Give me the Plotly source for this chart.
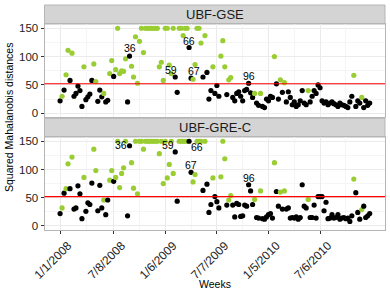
import pandas as pd
import plotly.graph_objects as go

# ---------------- data ----------------
start_week = "2008-01-01"
gse = [
    22, 30, 41, 68, 111, 58, 106, 30, 35, 48,
    40, 12, 82, 24, 29, 34, 58, 87, 56, 21,
    41, 29, 35, 20, 23, 70, 93, 65, 77, 150,
    70, 75, 74, 96, 20, 101, 83, 64, 135, 53,
    127, 150, 107, 150, 150, 150, 150, 150, 150, 150,
    82, 90, 58, 150, 150, 85, 70, 150, 64, 37,
    150, 150, 137, 150, 150, 116, 62, 60, 86, 150,
    150, 124, 64, 137, 72, 25, 40, 82, 35, 49,
    30, 101, 128, 82, 33, 59, 63, 28, 22, 35,
    38, 30, 22, 40, 42, 53, 36, 28, 35, 18,
    14, 35, 12, 10, 25, 22, 30, 28, 100, 52,
    25, 59, 37, 54, 20, 38, 28, 15, 20, 12,
    15, 22, 40, 18, 15, 40, 20, 30, 40, 35,
    50, 45, 22, 18, 20, 15, 18, 20, 17, 15,
    12, 18, 15, 14, 12, 10, 20, 30, 67, 12,
    22, 18, 28, 10, 22, 14, 18,
]
grec = [
    22, 32, 58, 66, 110, 66, 122, 30, 32, 71,
    57, 13, 86, 26, 41, 38, 76, 136, 98, 27,
    72, 32, 46, 20, 46, 81, 98, 79, 86, 150,
    68, 93, 103, 150, 18, 142, 112, 67, 150, 57,
    150, 150, 136, 150, 150, 150, 150, 150, 150, 150,
    128, 150, 75, 150, 85, 109, 150, 93, 131, 44,
    150, 150, 150, 150, 150, 150, 95, 78, 91, 150,
    150, 150, 63, 150, 74, 24, 38, 85, 52, 43,
    32, 87, 150, 119, 37, 46, 54, 37, 16, 40,
    38, 17, 18, 37, 35, 73, 62, 38, 47, 15,
    14, 62, 13, 12, 16, 20, 22, 14, 112, 61,
    35, 60, 30, 62, 30, 32, 14, 15, 14, 16,
    12, 15, 73, 35, 32, 47, 15, 15, 37, 14,
    52, 52, 52, 27, 42, 13, 14, 20, 14, 15,
    20, 12, 14, 15, 13, 14, 8, 18, 83, 59,
    24, 12, 29, 35, 15, 18, 22,
]
# 1 = flagged (green), 0 = not flagged (black)
flag = [
    0, 1, 0, 1, 1, 0, 1, 0, 0, 0,
    0, 0, 1, 0, 0, 0, 0, 1, 1, 0,
    0, 0, 1, 0, 0, 1, 1, 0, 1, 1,
    1, 1, 1, 1, 0, 0, 1, 1, 1, 1,
    1, 1, 1, 1, 1, 1, 1, 1, 1, 1,
    1, 1, 1, 1, 1, 1, 1, 1, 0, 0,
    1, 1, 1, 1, 1, 0, 0, 1, 1, 1,
    1, 1, 0, 1, 0, 0, 0, 1, 0, 0,
    0, 1, 1, 1, 0, 1, 1, 0, 0, 0,
    0, 0, 0, 0, 0, 0, 0, 0, 1, 0,
    0, 1, 0, 0, 0, 0, 0, 0, 1, 0,
    0, 1, 0, 1, 0, 0, 0, 0, 0, 0,
    0, 0, 0, 0, 0, 1, 0, 0, 0, 0,
    0, 0, 0, 0, 0, 0, 0, 0, 0, 0,
    0, 0, 0, 0, 0, 0, 0, 0, 1, 0,
    0, 0, 1, 0, 0, 0, 0,
]
labeled_weeks = [36, 59, 66, 67, 96]
threshold = 52
tick_dates = ["2008-01-01", "2008-07-08", "2009-01-06", "2009-07-07", "2010-01-05", "2010-07-06"]
tick_labels = ["1/1/2008", "7/8/2008", "1/6/2009", "7/7/2009", "1/5/2010", "7/6/2010"]
panel_names = ["UBF-GSE", "UBF-GRE-C"]

# ---------------- figure ----------------
W, H = 390, 293
dates = pd.date_range(start_week, periods=len(gse), freq="7D")
GREEN = "#9ACD32"
colors = [GREEN if f else "#000000" for f in flag]

tick_ts = pd.to_datetime(tick_dates)
minor_ts = [tick_ts[i] + (tick_ts[i + 1] - tick_ts[i]) / 2 for i in range(len(tick_ts) - 1)]
minor_ts = [tick_ts[0] - (tick_ts[1] - tick_ts[0]) / 2] + minor_ts + [tick_ts[-1] + (tick_ts[-1] - tick_ts[-2]) / 2]

xdom = [44.5 / W, 385 / W]
top_dom = [1 - 117.3 / H, 1 - 24 / H]
bot_dom = [1 - 230 / H, 1 - 137 / H]
top_strip = [1 - 24 / H, 1 - 5 / H]
bot_strip = [1 - 137 / H, 1 - 118.3 / H]

xrange = ["2007-11-07", "2011-02-20"]
yrange = [-7.1, 157.5]

FONT = "Liberation Sans, Arial, sans-serif"
fig = go.Figure()
for vals, xa, ya in [(gse, "x", "y"), (grec, "x2", "y2")]:
    fig.add_trace(go.Scatter(
        x=dates, y=vals, mode="markers", xaxis=xa, yaxis=ya,
        marker=dict(color=colors, size=5.2, line=dict(width=0)),
        showlegend=False, hoverinfo="x+y",
    ))

common_x = dict(
    type="date", range=xrange, tickvals=tick_dates, ticktext=tick_labels,
    showgrid=True, gridcolor="#EBEBEB", gridwidth=1.1, zeroline=False,
    showline=True, mirror=True, linecolor="#B5B5B5", linewidth=1, automargin=False,
    minor=dict(tickvals=minor_ts, showgrid=True, gridcolor="#F5F5F5", gridwidth=0.6),
)
common_y = dict(
    range=yrange, tickvals=[0, 50, 100, 150], showgrid=True, gridcolor="#EBEBEB",
    gridwidth=1.1, zeroline=False, showline=True, mirror=True, linecolor="#B5B5B5",
    linewidth=1, ticks="outside", ticklen=3, tickcolor="#333333", automargin=False,
    tickfont=dict(family=FONT, size=11.5, color="#222222"),
    minor=dict(tickvals=[25, 75, 125], showgrid=True, gridcolor="#F5F5F5", gridwidth=0.6),
)

fig.update_layout(
    width=W, height=H, margin=dict(l=0, r=0, t=0, b=0),
    paper_bgcolor="white", plot_bgcolor="white",
    xaxis=dict(common_x, domain=xdom, anchor="y", showticklabels=False, ticks=""),
    xaxis2=dict(common_x, domain=xdom, anchor="y2", ticks="outside", ticklen=3,
                tickcolor="#333333", tickangle=-45, ticklabelshift=8,
                tickfont=dict(family=FONT, size=12, color="#222222")),
    yaxis=dict(common_y, domain=top_dom, anchor="x"),
    yaxis2=dict(common_y, domain=bot_dom, anchor="x2"),
    font=dict(family=FONT),
)

shapes = []
for (strip, name) in [(top_strip, panel_names[0]), (bot_strip, panel_names[1])]:
    shapes.append(dict(type="rect", xref="paper", yref="paper", x0=xdom[0], x1=xdom[1],
                       y0=strip[0], y1=strip[1], fillcolor="#D4D4D4",
                       line=dict(color="#B5B5B5", width=1), layer="below"))
    fig.add_annotation(x=(xdom[0] + xdom[1]) / 2, y=(strip[0] + strip[1]) / 2,
                       xref="paper", yref="paper", text=name, showarrow=False,
                       xanchor="center", yanchor="middle",
                       font=dict(family=FONT, size=13, color="#1A1A1A"))
for ya in ["y", "y2"]:
    xa = "x" if ya == "y" else "x2"
    shapes.append(dict(type="line", xref=f"{xa} domain", yref=ya, x0=0, x1=1,
                       y0=threshold, y1=threshold, line=dict(color="#FF0000", width=1.1)))
fig.update_layout(shapes=shapes)

# point labels (offsets in pixels, presentation only)
label_shift = {
    "y": {36: (0, 8), 59: (-4, 7), 66: (0, 7), 67: (3, 7), 96: (0, 7)},
    "y2": {36: (-9, 1), 59: (-7, 7), 66: (8, -6), 67: (0, 7), 96: (0, 7)},
}
for vals, xa, ya in [(gse, "x", "y"), (grec, "x2", "y2")]:
    for wk in labeled_weeks:
        i = wk - 1
        dx, dy = label_shift[ya][wk]
        fig.add_annotation(x=dates[i], y=vals[i], xref=xa, yref=ya, text=str(wk),
                           showarrow=False, xshift=dx, yshift=dy,
                           xanchor="center", yanchor="middle",
                           font=dict(family=FONT, size=10.5, color="#000000"))

fig.add_annotation(x=(xdom[0] + xdom[1]) / 2, y=1 - 284 / H, xref="paper", yref="paper",
                   xanchor="center", yanchor="middle",
                   text="Weeks", showarrow=False, font=dict(family=FONT, size=10.5, color="#000000"))
fig.add_annotation(x=9 / W, y=1 - 118 / H, xref="paper", yref="paper", textangle=-90,
                   xanchor="center", yanchor="middle",
                   text="Squared Mahalanobis distances", showarrow=False,
                   font=dict(family=FONT, size=10.5, color="#000000"))

fig.write_html("out.html", config={"displayModeBar": False},
               post_script="document.body.style.margin='0';document.body.style.overflow='hidden';")
